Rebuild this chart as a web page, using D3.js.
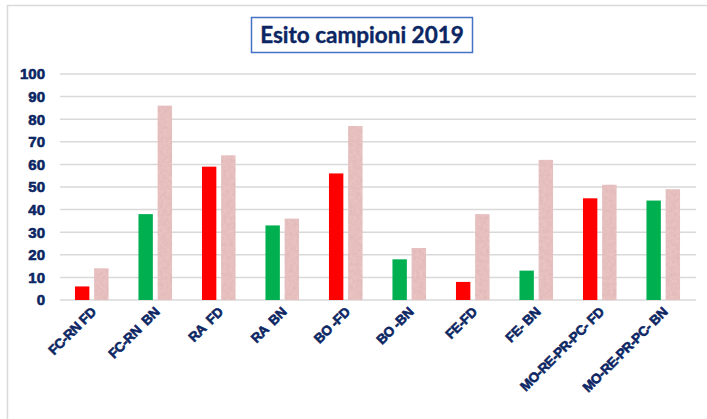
<!DOCTYPE html>
<meta charset="utf-8">
<style>
  body { margin: 0; background: #fff; }
  text { font-family: "Liberation Sans", Arial, sans-serif; }
</style>
<svg width="707" height="419"></svg>
<script src="https://d3js.org/d3.v7.min.js"></script>
<script>
// categories and values
var categories = ["FC-RN FD", "FC-RN  BN", "RA  FD", "RA  BN", "BO -FD", "BO -BN",
                  "FE-FD", "FE- BN", "MO-RE-PR-PC- FD", "MO-RE-PR-PC- BN"];
var esito = [6, 38, 59, 33, 56, 18, 8, 13, 45, 44];
var totale = [14, 86, 64, 36, 77, 23, 38, 62, 51, 49];
var yTicks = [0, 10, 20, 30, 40, 50, 60, 70, 80, 90, 100];

var svg = d3.select("svg");
var navy = "#0b2663";

// outer chart frame
svg.append("rect")
    .attr("x", 7.5).attr("y", 5.5)
    .attr("width", 705).attr("height", 430)
    .attr("fill", "none").attr("stroke", "#d9d9d9").attr("stroke-width", 1.5);

// texture for the pale bars
var defs = svg.append("defs");
var f = defs.append("filter").attr("id", "grain")
    .attr("x", 0).attr("y", 0).attr("width", 1).attr("height", 1);
f.append("feTurbulence").attr("type", "fractalNoise")
    .attr("baseFrequency", 0.3).attr("numOctaves", 2).attr("seed", 3).attr("result", "n");
f.append("feColorMatrix").attr("in", "n").attr("type", "matrix")
    .attr("values", "0 0 0 0 0.6  0 0 0 0 0.38  0 0 0 0 0.38  0 0 0 0.6 -0.15")
    .attr("result", "c");
f.append("feComposite").attr("in", "c").attr("in2", "SourceGraphic").attr("operator", "in").attr("result", "t");
f.append("feMerge").selectAll("feMergeNode")
    .data(["SourceGraphic", "t"]).enter().append("feMergeNode").attr("in", function(d) { return d; });

var x0 = d3.scaleBand().domain(d3.range(categories.length)).range([60, 695]);
var x1 = d3.scaleBand().domain(["a", "b"]).range([0, x0.bandwidth()])
    .paddingInner(0.25).paddingOuter(0.78);
var y = d3.scaleLinear().domain([0, 100]).range([300, 74]);

// gridlines
svg.append("g").selectAll("line")
    .data(yTicks).enter().append("line")
      .attr("x1", 60).attr("x2", 696)
      .attr("y1", function(d) { return y(d); })
      .attr("y2", function(d) { return y(d); })
      .attr("stroke", "#d9d9d9").attr("stroke-width", 1.5);

// y axis labels
var yAxis = svg.append("g")
    .attr("transform", "translate(52,0)")
    .call(d3.axisLeft(y).tickValues(yTicks).tickSize(0).tickPadding(7));
yAxis.select(".domain").remove();
yAxis.selectAll("text")
    .attr("fill", navy)
    .attr("stroke", navy).attr("stroke-width", 0.6)
    .style("font-family", "'Liberation Sans', Arial, sans-serif")
    .style("font-size", "15px").style("font-weight", "bold");

// bars
var g = svg.append("g");
g.selectAll("rect.esito")
    .data(esito).enter().append("rect")
      .attr("class", "esito")
      .attr("x", function(d, i) { return x0(i) + x1("a"); })
      .attr("y", function(d) { return y(d); })
      .attr("width", x1.bandwidth())
      .attr("height", function(d) { return y(0) - y(d); })
      .attr("fill", function(d, i) { return i % 2 ? "#00b050" : "#ff0000"; });

g.selectAll("rect.totale")
    .data(totale).enter().append("rect")
      .attr("class", "totale")
      .attr("x", function(d, i) { return x0(i) + x1("b"); })
      .attr("y", function(d) { return y(d); })
      .attr("width", x1.bandwidth())
      .attr("height", function(d) { return y(0) - y(d); })
      .attr("fill", "#eac3c3")
      .attr("filter", "url(#grain)");

// x labels, rotated
svg.append("g").selectAll("text")
    .data(categories).enter().append("text")
      .attr("transform", function(d, i) {
        return "translate(" + (x0(i) + x0.bandwidth() / 2 + 5) + ",313) rotate(-45)";
      })
      .attr("text-anchor", "end")
      .attr("fill", navy)
      .attr("stroke", navy).attr("stroke-width", 0.6)
      .style("font-size", "13.5px").style("font-weight", "bold")
      .style("letter-spacing", "-0.4px")
      .style("white-space", "pre")
      .text(function(d) { return d; });

// title box
svg.append("rect")
    .attr("x", 251.5).attr("y", 17.5).attr("width", 221).attr("height", 35)
    .attr("fill", "#fff").attr("stroke", "#4472c4").attr("stroke-width", 1.5);
svg.append("text")
    .attr("x", 362).attr("y", 43)
    .attr("text-anchor", "middle")
    .attr("fill", navy)
    .attr("stroke", navy).attr("stroke-width", 0.4)
    .style("font-family", "Lato, 'Open Sans', sans-serif")
    .style("font-size", "22.5px").style("font-weight", "bold")
    .text("Esito campioni 2019");
</script>
